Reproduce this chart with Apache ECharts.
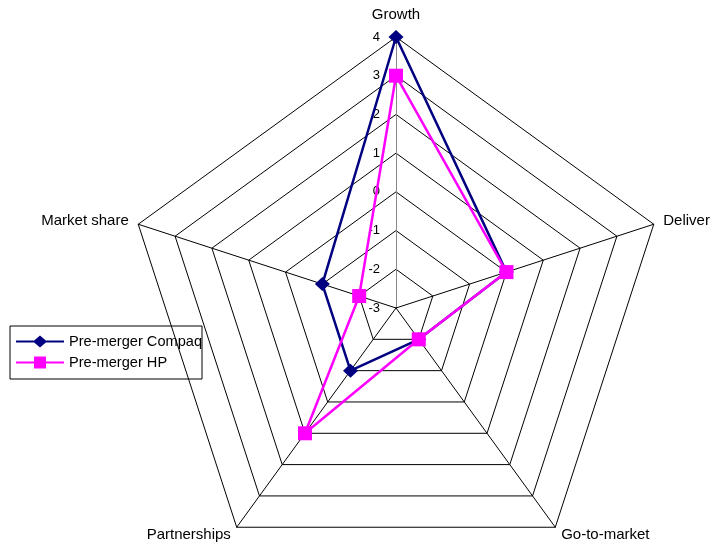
<!DOCTYPE html>
<html>
<head>
<meta charset="utf-8">
<title>Radar</title>
<style>
    html, body { margin:0; padding:0; background:#fff; }
    #main { width:711px; height:546px; }
</style>
</head>
<body>
<div id="main"></div>
<script src="https://cdn.jsdelivr.net/npm/echarts@6/dist/echarts.min.js"></script>
<script type="text/javascript">
    // categories (counter-clockwise from the top, as echarts lays them out)
    var axes = ['Growth', 'Market share', 'Partnerships', 'Go-to-market', 'Deliver'];
    var compaq = [4, -1, -1, -2, 0];
    var hp = [3, -2, 1, -2, 0];
    var scaleMin = -3, scaleMax = 4;

    // legend icons: a line with the marker in the middle
    var iconDiamond = 'path://M0 5L48 5L48 7L0 7Z M24 0L31 6L24 12L17 6Z';
    var iconSquare = 'path://M0 5L48 5L48 7L0 7Z M18 0L30 0L30 12L18 12Z';

    var chart = echarts.init(document.getElementById('main'));

    var indicator = axes.map(function (name, i) {
        var ind = { name: name, min: scaleMin, max: scaleMax };
        if (i > 0) {
            ind.axisLabel = { show: false };
        } else {
            ind.axisLine = { lineStyle: { color: '#888' } };
        }
        return ind;
    });

    var option = {
        backgroundColor: '#fff',
        animation: false,
        textStyle: { fontFamily: 'Liberation Sans, Arial, sans-serif' },
        legend: {
            data: [
                { name: 'Pre-merger Compaq', icon: iconDiamond },
                { name: 'Pre-merger HP', icon: iconSquare }
            ],
            orient: 'vertical',
            left: 10,
            top: 326,
            padding: [8, 0, 9, 6],
            borderColor: '#000',
            borderWidth: 1,
            borderRadius: 0,
            itemWidth: 48,
            itemHeight: 12,
            itemGap: 6,
            textStyle: { fontSize: 14.6, color: '#000' }
        },
        radar: {
            center: [396, 308],
            radius: 271,
            shape: 'polygon',
            splitNumber: 7,
            nameGap: 10,
            axisName: {
                color: '#000',
                fontSize: 15,
                formatter: function (name) {
                    return name === 'Growth' ? '{top|' + name + '}' : name;
                },
                rich: {
                    top: { fontSize: 15, color: '#000', padding: [0, 0, 5, 0] }
                }
            },
            splitLine: { lineStyle: { color: '#000', width: 1 } },
            splitArea: { show: false },
            axisLine: { lineStyle: { color: '#000', width: 1 } },
            axisTick: { show: false },
            axisLabel: { show: true, color: '#000', fontSize: 13, margin: 16 },
            indicator: indicator
        },
        series: [{
            type: 'radar',
            data: [{
                name: 'Pre-merger Compaq',
                value: compaq,
                symbol: 'diamond',
                symbolSize: [15, 14],
                lineStyle: { color: '#000080', width: 2.5 },
                itemStyle: { color: '#000080' }
            }, {
                name: 'Pre-merger HP',
                value: hp,
                symbol: 'rect',
                symbolSize: 14,
                lineStyle: { color: '#ff00ff', width: 2.5 },
                itemStyle: { color: '#ff00ff' }
            }]
        }]
    };
    chart.setOption(option);
</script>
</body>
</html>
